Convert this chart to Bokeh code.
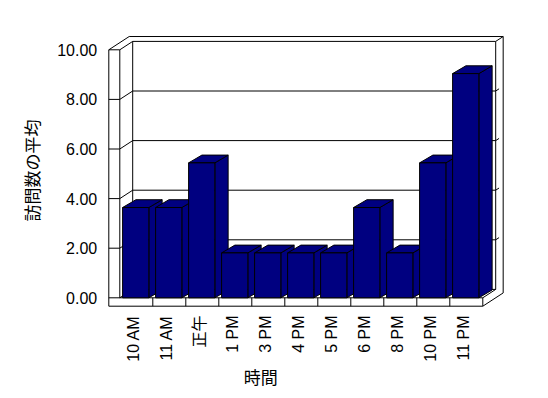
import math
from bokeh.plotting import figure
from bokeh.models import Range1d, ColumnDataSource
from bokeh.core.properties import value
from bokeh.embed import file_html
from bokeh.resources import INLINE

# ---- data ----
categories = ["10 AM", "11 AM", "正午", "1 PM", "3 PM", "4 PM", "5 PM", "6 PM", "8 PM", "10 PM", "11 PM"]
visits = [3.64, 3.64, 5.44, 1.81, 1.81, 1.81, 1.81, 3.64, 1.81, 5.44, 9.04]
y_ticks = [0, 2, 4, 6, 8, 10]
y_tick_labels = ["0.00", "2.00", "4.00", "6.00", "8.00", "10.00"]
y_title = "訪問数の平均"
x_title = "時間"

# ---- geometry (data units: 1 category wide, 1 value unit tall) ----
PX_U = 33.0     # pixels per category
PX_V = 24.8     # pixels per value unit
X0_PX = 119.3   # pixel of category 0 start
Y0_PX = 297.3   # pixel of value 0
W, H = 548, 398
N = len(categories)
YMAX = max(y_ticks)

DX = 12.9 / PX_U          # wall depth
DY = 8.4 / PX_V
BDX = 13.3 / PX_U         # bar depth
BDY = 7.8 / PX_V
WX = 11.0 / PX_U          # left wall thickness
FY = 8.4 / PX_V           # floor thickness
BK = 1.58                 # back wall outer depth factor

p = figure(width=W, height=H, output_backend="svg", toolbar_location=None,
           x_range=Range1d(-X0_PX / PX_U, (W - X0_PX) / PX_U),
           y_range=Range1d((Y0_PX - H) / PX_V, Y0_PX / PX_V),
           min_border=0, min_border_left=0, min_border_right=0,
           min_border_top=0, min_border_bottom=0)
p.axis.visible = False
p.xgrid.visible = False
p.ygrid.visible = False
p.outline_line_color = None
p.background_fill_color = "white"
p.border_fill_color = "white"

# silhouette of the 3D box
sx = [-WX, -WX + BK * DX, N + BK * DX, N + BK * DX, N, -WX]
sy = [YMAX, YMAX + BK * DY, YMAX + BK * DY, -FY + BK * DY, -FY, -FY]
p.patch(sx, sy, fill_color="white", line_color="black", line_width=1)

xs, ys = [], []
# left wall front face inner edge and top
xs.append([-WX, 0, 0]); ys.append([YMAX, YMAX, 0])
xs.append([0, DX, N + DX, N + BK * DX]); ys.append([YMAX, YMAX + DY, YMAX + DY, YMAX + BK * DY])
# floor front top edge
xs.append([-WX, N, N]); ys.append([0, 0, -FY])
# dividers
for k in range(1, N):
    xs.append([k, k]); ys.append([0, -FY])
# right inner edge and floor right
xs.append([N, N + DX, N + DX]); ys.append([0, DY, YMAX + DY])
# back wall left inner vertical, floor back line, floor-left wall edge
xs.append([DX, DX]); ys.append([DY, YMAX + DY])
xs.append([DX, N + DX]); ys.append([DY, DY])
xs.append([0, DX]); ys.append([0, DY])
# grid lines
for t in y_ticks[1:-1]:
    xs.append([-WX, 0, DX, N + DX, N + DX + 0.45 * (BK - 1) * DX])
    ys.append([t, t, t + DY, t + DY, t + DY + 0.45 * (BK - 1) * DY])
p.multi_line(xs, ys, line_color="black", line_width=1)

# bars
bx, by = [], []
for i, v in enumerate(visits):
    x0, x1 = i + 0.085, i + 0.88
    bx.append([x1, x1 + BDX, x1 + BDX, x1]); by.append([0, BDY, v + BDY, v])
    bx.append([x0, x1, x1 + BDX, x0 + BDX]); by.append([v, v, v + BDY, v + BDY])
    bx.append([x0, x1, x1, x0]); by.append([0, 0, v, v])
p.patches(bx, by, fill_color="#000080", line_color="black", line_width=1)

LAT = value("Liberation Sans, Noto Sans CJK JP")
CJK = value("Noto Sans CJK JP")

# y tick labels
p.text(x=[(96.7 - X0_PX) / PX_U] * len(y_ticks), y=y_ticks, text=y_tick_labels,
       text_font=LAT, text_font_size="16px", text_color="black",
       text_align="right", text_baseline="middle")

# x category labels
p.text(x=[i + 0.43 for i in range(N)], y=[(Y0_PX - 315) / PX_V] * N, text=categories,
       angle=math.pi / 2, text_font=LAT, text_font_size="16px", text_color="black",
       text_align="right", text_baseline="middle")

# axis titles
p.text(x=[(30.5 - X0_PX) / PX_U], y=[(Y0_PX - 170) / PX_V], text=[y_title], angle=math.pi / 2,
       text_font=CJK, text_font_size="17px", text_color="black",
       text_align="center", text_baseline="middle")
p.text(x=[(260.3 - X0_PX) / PX_U], y=[(Y0_PX - 375.8) / PX_V], text=[x_title],
       text_font=CJK, text_font_size="17px", text_color="black",
       text_align="center", text_baseline="middle")

open("out.html", "w").write(file_html(p, INLINE))
